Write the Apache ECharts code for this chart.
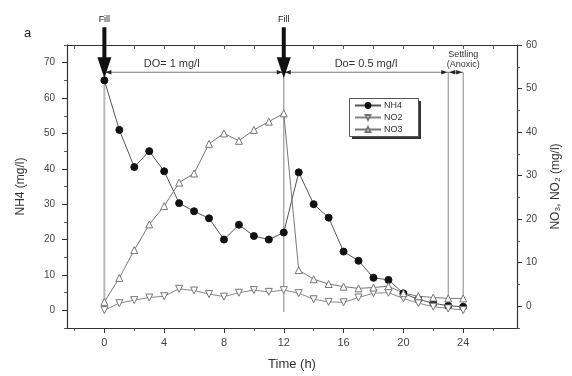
<!DOCTYPE html>
<html>
<head>
<meta charset="utf-8">
<script src="https://cdn.jsdelivr.net/npm/echarts@6/dist/echarts.min.js"></script>
<style>
html,body{margin:0;padding:0;background:#fff;}
#chart{width:572px;height:376px;}
</style>
</head>
<body>
<div id="chart"></div>
<script>
// ---- data ----
const times = [0,1,2,3,4,5,6,7,8,9,10,11,12,13,14,15,16,17,18,19,20,21,22,23,24];
const nh4 = [65, 51, 40.5, 45, 39.3, 30.3, 28, 26, 20, 24.2, 21, 20, 22, 39, 30, 26.2, 16.6, 14, 9.2, 8.6, 4.8, 3.1, 2, 1.3, 1];
const no2 = [-0.9, 0.7, 1.4, 2.0, 2.3, 4.0, 3.6, 2.8, 2.2, 3.1, 3.7, 3.3, 3.7, 3.0, 1.6, 1.0, 0.9, 2.0, 3.0, 3.1, 1.8, 0.7, -0.1, -0.5, -0.9];
const no3 = [1.0, 6.5, 12.9, 18.8, 23.0, 28.4, 30.5, 37.3, 39.7, 38.0, 40.5, 42.4, 44.3, 8.3, 6.2, 5.1, 4.5, 4.1, 4.3, 4.6, 3.0, 2.3, 2.0, 1.8, 1.8];
const seriesNames = ['NH4', 'NO2', 'NO3'];
const xMajorTicks = [0, 4, 8, 12, 16, 20, 24];
const xMinorTicks = [-2, 2, 6, 10, 14, 18, 22, 26];
const leftMajorTicks = [0, 10, 20, 30, 40, 50, 60, 70];
const rightMajorTicks = [0, 10, 20, 30, 40, 50, 60];
// annotations (in time / NH4 axis units)
const fillTimes = [0, 12];
const fillTip = 65.6;
const phaseBounds = [0, 12, 23, 24];
const phaseLevel = 67.3;
const phaseFloor = -0.5;
const phaseLabels = ['DO= 1 mg/l', 'Do= 0.5 mg/l', 'Settling\n(Anoxic)'];
const phaseLabelAt = [4.5, 17.5, 24];

const FONT = '"Liberation Sans", Arial, sans-serif';
const chart = echarts.init(document.getElementById('chart'), null, {renderer: 'canvas'});

const pairs = arr => times.map((t, i) => [t, arr[i]]);
const boundStyle = [
  {stroke: '#b8b8b8', lineWidth: 2},
  {stroke: '#999', lineWidth: 1.2},
  {stroke: '#888', lineWidth: 1},
  {stroke: '#888', lineWidth: 1}
];

const xBase = {
  type: 'value', min: -2.5, max: 27.6, splitLine: {show: false}
};
const option = {
  animation: false,
  backgroundColor: '#fff',
  title: {text: 'a', left: 19, top: 22, textStyle: {fontFamily: FONT, fontSize: 13, fontWeight: 'normal', color: '#222'}},
  grid: {left: 67, right: 55, top: 45, bottom: 48, containLabel: false},
  graphic: [
    {type: 'rect', left: 352, top: 101, z: 0, shape: {width: 69, height: 38}, style: {fill: '#333'}},
    {type: 'rect', left: 349, top: 98, z: 1, shape: {width: 69, height: 38}, style: {fill: '#fff', stroke: '#555', lineWidth: 1}}
  ],
  legend: {
    orient: 'vertical', left: 349, top: 98, z: 10,
    data: seriesNames,
    itemWidth: 26, itemHeight: 6, itemGap: 3,
    padding: [3, 6, 3, 5],
    textStyle: {fontFamily: FONT, fontSize: 9, color: '#333', padding: [0, 0, 0, -2]}
  },
  xAxis: [
    Object.assign({}, xBase, {
      position: 'bottom',
      name: 'Time (h)', nameLocation: 'middle', nameGap: 30,
      nameTextStyle: {fontFamily: FONT, fontSize: 13, color: '#333'},
      axisLine: {onZero: false, lineStyle: {color: '#333', width: 1.2}},
      axisTick: {customValues: xMajorTicks, length: 5, inside: false, lineStyle: {color: '#333'}},
      axisLabel: {customValues: xMajorTicks, margin: 9, fontFamily: FONT, fontSize: 11, color: '#444'}
    }),
    Object.assign({}, xBase, {
      position: 'bottom',
      axisLine: {show: false, onZero: false},
      axisTick: {customValues: xMinorTicks, length: 3, lineStyle: {color: '#555'}},
      axisLabel: {show: false}
    }),
    Object.assign({}, xBase, {
      position: 'top',
      axisLine: {onZero: false, lineStyle: {color: '#333', width: 1.2}},
      axisTick: {customValues: xMajorTicks.concat(xMinorTicks), length: 4, inside: true, lineStyle: {color: '#555'}},
      axisLabel: {show: false}
    })
  ],
  yAxis: [
    {
      type: 'value', position: 'left', min: -5, max: 75, interval: 5,
      name: 'NH4 (mg/l)', nameLocation: 'middle', nameGap: 40, nameRotate: 90,
      nameTextStyle: {fontFamily: FONT, fontSize: 12, color: '#333'},
      splitLine: {show: false},
      axisLine: {show: true, onZero: false, lineStyle: {color: '#333', width: 1.2}},
      axisTick: {length: 3, lineStyle: {color: '#555'}},
      axisLabel: {margin: 12, fontFamily: FONT, fontSize: 10, color: '#444',
        formatter: v => (v >= 0 && v <= 70 && v % 10 === 0) ? String(v) : ''}
    },
    {
      type: 'value', position: 'left', min: -5, max: 75,
      splitLine: {show: false},
      axisLine: {show: false, onZero: false},
      axisTick: {customValues: leftMajorTicks, length: 5, lineStyle: {color: '#333'}},
      axisLabel: {show: false}
    },
    {
      type: 'value', position: 'right', min: -5, max: 60, interval: 5,
      name: 'NO\u2083, NO\u2082 (mg/l)', nameLocation: 'middle', nameGap: 33, nameRotate: 90,
      nameTextStyle: {fontFamily: FONT, fontSize: 12, color: '#333'},
      splitLine: {show: false},
      axisLine: {show: true, onZero: false, lineStyle: {color: '#333', width: 1.2}},
      axisTick: {length: 3, lineStyle: {color: '#555'}},
      axisLabel: {margin: 9, fontFamily: FONT, fontSize: 10, color: '#444',
        formatter: v => (v >= 0 && v <= 60 && v % 10 === 0) ? String(v) : ''}
    },
    {
      type: 'value', position: 'right', min: -5, max: 60,
      splitLine: {show: false},
      axisLine: {show: false, onZero: false},
      axisTick: {customValues: rightMajorTicks, length: 5, lineStyle: {color: '#333'}},
      axisLabel: {show: false}
    }
  ],
  series: [
    {
      type: 'custom', name: 'annot', xAxisIndex: 0, yAxisIndex: 0, z: 1, silent: true,
      data: [[0, 0]],
      renderItem: function (params, api) {
        const ch = [];
        const yl = api.coord([0, phaseLevel])[1];
        const yb = api.coord([0, phaseFloor])[1];
        phaseBounds.forEach((t, i) => {
          const x = api.coord([t, 0])[0];
          ch.push({type: 'line', shape: {x1: x, y1: yl, x2: x, y2: yb}, style: boundStyle[i]});
        });
        for (let i = 0; i < phaseBounds.length - 1; i++) {
          const xa = api.coord([phaseBounds[i], 0])[0];
          const xb = api.coord([phaseBounds[i + 1], 0])[0];
          ch.push({type: 'line', shape: {x1: xa, y1: yl, x2: xb, y2: yl}, style: {stroke: '#777', lineWidth: 1}});
          ch.push({type: 'polygon', shape: {points: [[xa + 1, yl], [xa + 7, yl - 2.2], [xa + 7, yl + 2.2]]}, style: {fill: '#222'}});
          ch.push({type: 'polygon', shape: {points: [[xb - 1, yl], [xb - 7, yl - 2.2], [xb - 7, yl + 2.2]]}, style: {fill: '#222'}});
        }
        phaseLabels.forEach((s, i) => {
          const x = api.coord([phaseLabelAt[i], 0])[0];
          const small = s.indexOf('\n') >= 0;
          ch.push({type: 'text', x: x, y: yl - (small ? 3 : 2),
            style: {text: s, fill: '#333', font: (small ? 9 : 11) + 'px ' + FONT,
              align: 'center', verticalAlign: 'bottom', lineHeight: small ? 10 : 12}});
        });
        fillTimes.forEach(t => {
          const x = api.coord([t, 0])[0];
          const tip = api.coord([t, fillTip])[1];
          ch.push({type: 'rect', shape: {x: x - 2, y: tip - 51, width: 4, height: 32}, style: {fill: '#111'}});
          ch.push({type: 'polygon', shape: {points: [[x - 7, tip - 21], [x + 7, tip - 21], [x, tip]]}, style: {fill: '#111'}});
          ch.push({type: 'text', x: x, y: tip - 54,
            style: {text: 'Fill', fill: '#222', font: '9px ' + FONT, align: 'center', verticalAlign: 'bottom'}});
        });
        return {type: 'group', children: ch};
      }
    },
    {
      name: 'NH4', type: 'line', xAxisIndex: 0, yAxisIndex: 0, z: 3,
      data: pairs(nh4), symbol: 'circle', symbolSize: 7,
      lineStyle: {color: '#555', width: 1},
      itemStyle: {color: '#111', borderColor: '#111', borderWidth: 1}
    },
    {
      name: 'NO2', type: 'line', xAxisIndex: 0, yAxisIndex: 2, z: 3,
      data: pairs(no2), symbol: 'triangle', symbolRotate: 180, symbolSize: 7,
      lineStyle: {color: '#888', width: 1},
      itemStyle: {color: '#fff', borderColor: '#777', borderWidth: 1}
    },
    {
      name: 'NO3', type: 'line', xAxisIndex: 0, yAxisIndex: 2, z: 3,
      data: pairs(no3), symbol: 'triangle', symbolSize: 7,
      lineStyle: {color: '#777', width: 1},
      itemStyle: {color: '#fff', borderColor: '#777', borderWidth: 1}
    }
  ]
};
chart.setOption(option);
</script>
</body>
</html>
